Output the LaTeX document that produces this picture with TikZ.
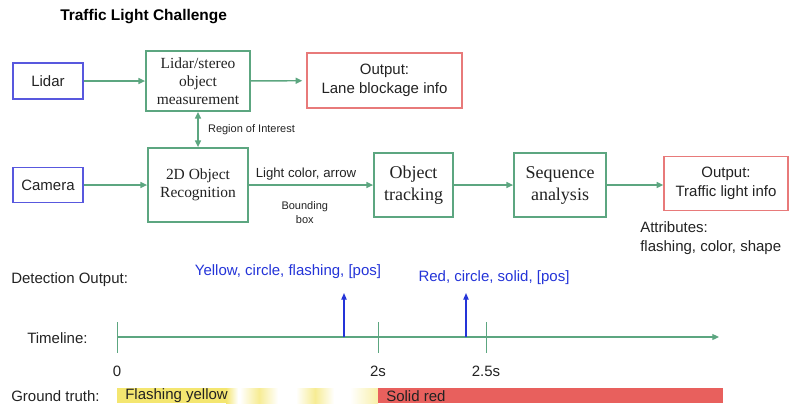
\documentclass[tikz,border=0pt]{standalone}
\usepackage{fontspec}
\setmainfont{Liberation Sans}
\newfontfamily\boxserif{Liberation Serif}
\usetikzlibrary{arrows.meta}

\definecolor{flowgreen}{RGB}{92,166,128}
\definecolor{srcblue}{RGB}{88,88,222}
\definecolor{outred}{RGB}{232,122,122}
\definecolor{dettextblue}{RGB}{36,52,216}
\definecolor{gtyellow}{RGB}{244,230,112}
\definecolor{gtred}{RGB}{232,96,93}
\definecolor{inktext}{RGB}{34,34,34}

\tikzset{
    srcbox/.style={draw=srcblue, line width=1.1pt, inner sep=0pt, align=center,
        text=inktext, font=\fontsize{11.25}{14}\selectfont},
    outbox/.style={srcbox, draw=outred},
    stepbox/.style={draw=flowgreen, line width=1.3pt, inner sep=0pt, align=center,
        text=inktext, font=\boxserif\fontsize{11.6}{13.5}\selectfont},
    bigstepbox/.style={stepbox, font=\boxserif\fontsize{13.5}{16.5}\selectfont},
    flow/.style={draw=flowgreen, line width=1.1pt, -{Triangle[length=5pt,width=4.5pt]}},
    plaintext/.style={inner sep=0pt, text=inktext, font=\fontsize{11.25}{14.25}\selectfont},
    smalltext/.style={inner sep=0pt, text=inktext, font=\fontsize{8.25}{10.5}\selectfont},
    dettext/.style={inner sep=0pt, text=dettextblue, font=\fontsize{11.25}{14}\selectfont},
    detarrow/.style={draw=dettextblue, line width=0.9pt, -{Triangle[length=5pt,width=4pt]}},
    tickline/.style={draw=flowgreen, line width=0.7pt},
}

\begin{document}
\begin{tikzpicture}[x=0.75pt,y=-0.75pt]
    \useasboundingbox (0,0) rectangle (800,419);
    \node[inner sep=0pt, anchor=west, font=\bfseries\fontsize{11.6}{14}\selectfont] (title) at (60,17) {Traffic Light Challenge};

    \node[srcbox, minimum width=52.5pt, minimum height=27pt] (lidar) at (48,81) {Lidar};
    \node[stepbox, minimum width=78pt, minimum height=45pt] (stereo) at (198,81) {Lidar/stereo\\object\\measurement};
    \node[outbox, minimum width=116.25pt, minimum height=41.25pt] (lane) at (384.5,80.5) {Output:\\Lane blockage info};

    \node[srcbox, minimum width=52.5pt, minimum height=26.25pt] (camera) at (48,185) {Camera};
    \node[stepbox, minimum width=75pt, minimum height=55.5pt] (recog) at (198,185) {2D Object\\Recognition};
    \node[bigstepbox, minimum width=59.25pt, minimum height=48pt] (track) at (413.5,185) {Object\\tracking};
    \node[bigstepbox, minimum width=69pt, minimum height=48pt] (seq) at (560,185) {Sequence\\analysis};
    \node[outbox, minimum width=93pt, minimum height=40.5pt] (tlinfo) at (726,183.5) {Output:\\Traffic light info};
    \node[plaintext, anchor=west, align=left] (attr) at (640,238.5) {Attributes:\\flashing, color, shape};

    \draw[flow] (lidar) -- (stereo);
    \draw[flow, shorten >=3pt] (stereo) -- (lane);
    \draw[flow, {Triangle[length=5pt,width=4.5pt]}-{Triangle[length=5pt,width=4.5pt]}] (stereo) -- (recog)
        node[smalltext, midway, right=7pt] (roilbl) {Region of Interest};
    \draw[flow] (camera) -- (recog);
    \draw[flow] (recog) -- (track)
        node[inner sep=0pt, text=inktext, font=\fontsize{9.9}{12}\selectfont, pos=0.46, above=3pt] (lightlbl) {Light color, arrow}
        node[smalltext, align=center, pos=0.45, below=12pt] (bboxlbl) {Bounding\\box};
    \draw[flow] (track) -- (seq);
    \draw[flow] (seq.east) -- (seq.east -| tlinfo.west);

    \node[plaintext, anchor=west] (detlbl) at (11,280) {Detection Output:};
    \node[plaintext, anchor=west] (timelbl) at (27,338) {Timeline:};
    \node[plaintext, anchor=west] (gtlbl) at (11,396) {Ground truth:};

    \coordinate (t0) at (117,337);
    \coordinate (tend) at (719,337);
    \draw[flow, line width=0.8pt] (t0) -- (tend);
    \foreach \x/\lbl [count=\i] in {117/0, 378/2s, 486/2.5s} {
        \draw[tickline] (\x,322) -- (\x,353);
        \node[plaintext] (tick\i) at (\x,371) {\lbl};
    }

    \node[dettext] (detyellow) at (288,272) {Yellow, circle, flashing, [pos]};
    \node[dettext] (detred) at (494,278) {Red, circle, solid, [pos]};
    \coordinate (hit1) at (344,337);
    \coordinate (tip1) at (344,293);
    \coordinate (hit2) at (466,337);
    \coordinate (tip2) at (466,293);
    \draw[detarrow] (hit1) -- (tip1);
    \draw[detarrow] (hit2) -- (tip2);

    \fill[gtyellow] (117,388) rectangle (226,403);
    \shade[left color=gtyellow, right color=white] (226,388) rectangle (238,403);
    \foreach \a/\b in {240/278, 296/334} {
        \shade[left color=white, right color=white, middle color=gtyellow!75] (\a,388) rectangle (\b,403);
    }
    \shade[left color=white, right color=gtyellow!60] (350,388) rectangle (378,403);
    \fill[gtred] (378,388) rectangle (723,403);
    \node[plaintext, anchor=west] (flashlbl) at (125,396) {Flashing yellow};
    \node[plaintext, anchor=west] (solidlbl) at (386,396) {Solid red};
\end{tikzpicture}
\end{document}
